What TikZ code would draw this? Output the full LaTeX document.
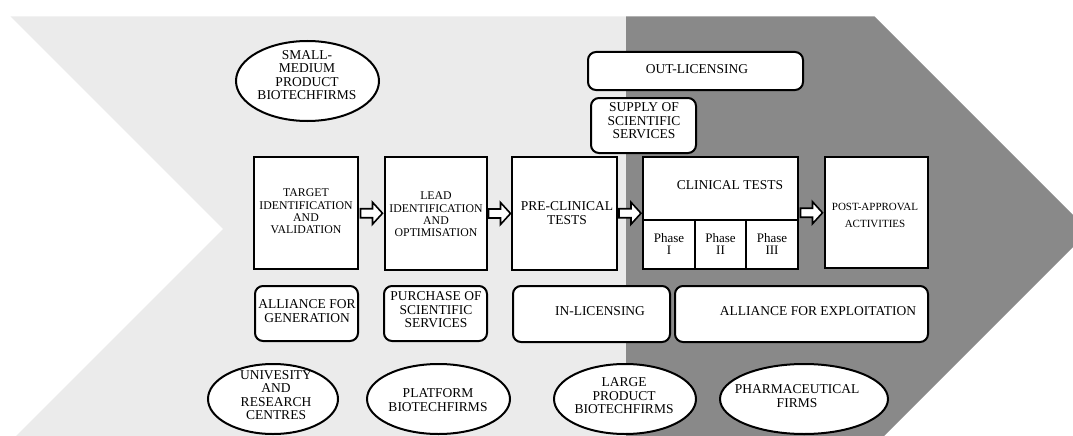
\documentclass[tikz,border=0pt]{standalone}
\usepackage{fontspec}
\setmainfont{Liberation Serif}
\usetikzlibrary{shapes.geometric,calc}
\definecolor{lightbg}{RGB}{235,235,235}
\definecolor{darkbg}{RGB}{137,137,137}
\newcommand\fbig{\fontsize{13.5}{13.5}\selectfont}
\newcommand\fsm{\fontsize{11.8}{12.3}\selectfont}
\newcommand\fpost{\fontsize{11}{17}\selectfont}
\newcommand\fph{\fontsize{13}{12.5}\selectfont}
\begin{document}
\begin{tikzpicture}[x=1pt,y=-1pt,
  sq/.style 2 args={draw, line width=2pt, fill=white, inner sep=0, minimum width=#1, minimum height=#2},
  rbox/.style 2 args={sq={#1}{#2}, rounded corners=8pt},
  ell/.style 2 args={ellipse, draw, line width=2pt, fill=white, inner sep=0, minimum width=#1, minimum height=#2},
  txt/.style={align=center, inner sep=0, font=\fbig},
  barrow/.style={draw, fill=white, line width=1.6pt, line join=miter}]
\useasboundingbox (0,0) rectangle (1073,436);
\begin{scope}
  \clip (0,0) rectangle (1073,436);
  \fill[lightbg] (10.5,16.5) -- (626,16.5) -- (626,436) -- (16,436) -- (223,229) -- cycle;
  \fill[darkbg] (626,16.5) -- (874.5,16.5) -- (1089,231) -- (884,436) -- (626,436) -- cycle;
\end{scope}

% top
\node[ell={143}{80}] (smallmed) at (307.5,81) {};
\node[txt] (smallmedT) at (307,75) {SMALL-\\MEDIUM\\PRODUCT\\BIOTECHFIRMS};
\node[rbox={215}{38}] (outlic) at (695.5,71) {};
\node[txt] (outlicT) at (697,69) {OUT-LICENSING};
\node[rbox={105}{55}] (supply) at (643.5,125.5) {};
\node[txt] (supplyT) at (644,121) {SUPPLY OF\\SCIENTIFIC\\SERVICES};

% stages
\node[sq={104}{112}] (target) at (306,213) {};
\node[txt, font=\fsm] (targetT) at (306,211.5) {TARGET\\IDENTIFICATION\\AND\\VALIDATION};
\node[sq={102}{113}] (lead) at (436,213.5) {};
\node[txt, font=\fsm] (leadT) at (436,214.5) {LEAD\\IDENTIFICATION\\AND\\OPTIMISATION};
\node[sq={105}{113}] (pre) at (564.5,213.5) {};
\node[txt, font=\fontsize{13.5}{14}\selectfont] (preT) at (567,213) {PRE-CLINICAL\\TESTS};
\node[sq={155}{112}] (clin) at (720.5,213) {};
\node[txt] (clinT) at (730,185) {CLINICAL TESTS};
\node[sq={52}{49}] (ph1) at (669,244.5) {};
\node[sq={51}{49}] (ph2) at (720.5,244.5) {};
\node[sq={52}{49}] (ph3) at (772,244.5) {};
\node[txt, font=\fph] (ph1T) at (669,244) {Phase\\I};
\node[txt, font=\fph] (ph2T) at (720.5,244) {Phase\\II};
\node[txt, font=\fph] (ph3T) at (772,244) {Phase\\III};
\node[sq={103}{111}] (post) at (876.5,212.5) {};
\node[txt, font=\fpost] (postT) at (875,215.5) {POST-APPROVAL\\ACTIVITIES};

% arrows
\path (target.east) -- (lead.west) coordinate[pos=0.5] (a1);
\path (lead.east) -- (pre.west) coordinate[pos=0.5] (a2);
\path (pre.east) -- (clin.west) coordinate[pos=0.5] (a3);
\path (clin.east) -- (post.west) coordinate[pos=0.5] (a4);
\foreach \a in {a1,a2,a3,a4}
  \draw[barrow, shift={(\a)}] (-11,-4.5) -- (1,-4.5) -- (1,-11) -- (11,0) -- (1,11) -- (1,4.5) -- (-11,4.5) -- cycle;

% relations
\node[rbox={103}{55}] (allgen) at (306.5,313.5) {};
\node[txt] (allgenT) at (307,311) {ALLIANCE FOR\\GENERATION};
\node[rbox={103}{55}] (purch) at (435.5,313.5) {};
\node[txt] (purchT) at (436,310) {PURCHASE OF\\SCIENTIFIC\\SERVICES};
\node[rbox={157}{56}] (inlic) at (591.5,314) {};
\node[txt] (inlicT) at (600,311) {IN-LICENSING};
\node[rbox={253}{56}] (allexp) at (801.5,314) {};
\node[txt] (allexpT) at (818,311) {ALLIANCE FOR EXPLOITATION};

% actors
\node[ell={130}{70}] (univ) at (273,399) {};
\node[txt] (univT) at (276,395) {UNIVESITY\\AND\\RESEARCH\\CENTRES};
\node[ell={143}{70}] (platf) at (438.5,399) {};
\node[txt] (platfT) at (438,400) {PLATFORM\\BIOTECHFIRMS};
\node[ell={142}{70}] (large) at (625,399) {};
\node[txt] (largeT) at (624,396) {LARGE\\PRODUCT\\BIOTECHFIRMS};
\node[ell={168}{70}] (pharma) at (804,399) {};
\node[txt] (pharmaT) at (797,396) {PHARMACEUTICAL\\FIRMS};
\end{tikzpicture}
\end{document}
